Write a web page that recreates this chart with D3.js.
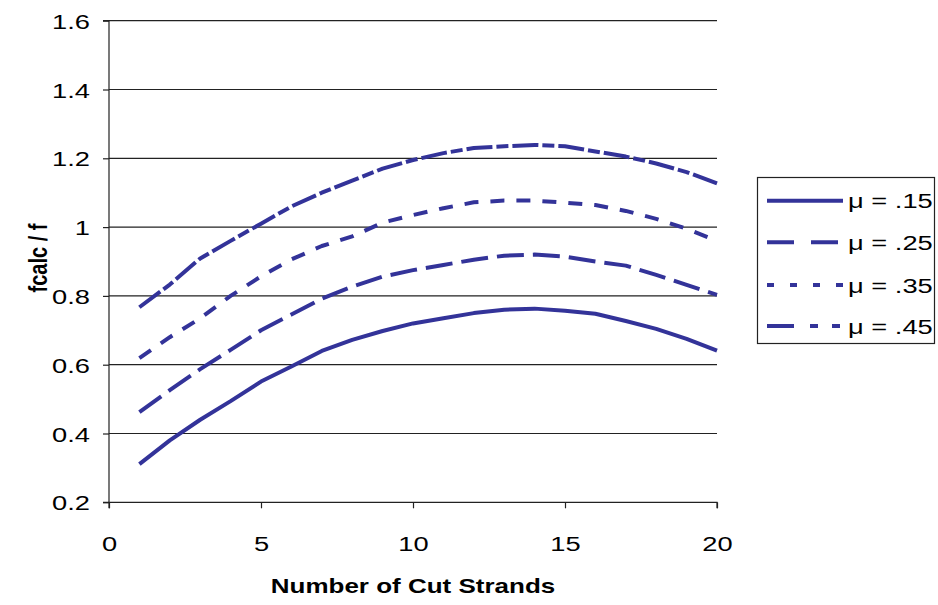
<!DOCTYPE html>
<html>
<head>
<meta charset="utf-8">
<script src="https://cdn.jsdelivr.net/npm/d3@7"></script>
<style>
  html, body { margin: 0; padding: 0; background: #fff; }
  svg { display: block; font-family: "Liberation Sans", Arial, sans-serif; }
</style>
</head>
<body>
<svg id="chart" width="938" height="605"></svg>
<script>
const strands = [1,2,3,4,5,6,7,8,9,10,11,12,13,14,15,16,17,18,19,20];
const mu15 = [0.311,0.38,0.44,0.494,0.551,0.595,0.64,0.672,0.698,0.72,0.735,0.75,0.76,0.763,0.757,0.748,0.727,0.704,0.675,0.641];
const mu25 = [0.462,0.526,0.587,0.643,0.70,0.746,0.792,0.827,0.856,0.875,0.89,0.905,0.917,0.92,0.914,0.90,0.888,0.861,0.832,0.803];
const mu35 = [0.619,0.68,0.735,0.80,0.857,0.906,0.945,0.973,1.013,1.035,1.055,1.072,1.077,1.077,1.071,1.064,1.047,1.024,0.995,0.96];
const mu45 = [0.767,0.833,0.909,0.96,1.01,1.06,1.10,1.135,1.17,1.195,1.215,1.23,1.235,1.239,1.235,1.22,1.205,1.185,1.16,1.127];
const seriesNames = ["\u03bc = .15","\u03bc = .25","\u03bc = .35","\u03bc = .45"];
const xTicks = [0,5,10,15,20];
const yTicks = [0.2,0.4,0.6,0.8,1.0,1.2,1.4,1.6];

(function () {
const seriesValues = [mu15, mu25, mu35, mu45];
const plotDash = [null, "27,9", "14,12", "26,4,12,4"];
const legendDash = [null, "27,17", "7,16", "27,16,8,14,8,20"];
const color = "#333399";
const SX = 1.3; // horizontal stretch of text in the reference

const svg = d3.select("#chart");
const pL = 109, pR = 717, pT = 20.7, pB = 502.3;
const x = d3.scaleLinear().domain([0,20]).range([pL,pR]);
const y = d3.scaleLinear().domain([0.2,1.6]).range([pB,pT]);

// gridlines
svg.append("g").selectAll("line").data(yTicks.filter(d => d > 0.2)).join("line")
  .attr("x1", pL).attr("x2", pR)
  .attr("y1", d => y(d)).attr("y2", d => y(d))
  .attr("stroke", "#222").attr("stroke-width", 1.2);

// axes
const yAxis = d3.axisLeft(y).tickValues(yTicks).tickSize(6)
  .tickFormat(d => d === 1 ? "1" : d3.format(".1f")(d));
const gy = svg.append("g").attr("transform", `translate(${pL},0)`).call(yAxis);
const xAxis = d3.axisBottom(x).tickValues(xTicks).tickSize(6).tickFormat(d3.format("d"));
const gx = svg.append("g").attr("transform", `translate(0,${pB})`).call(xAxis);
[gx, gy].forEach(g => {
  g.select(".domain").attr("stroke", "#222").attr("stroke-width", 1.2);
  g.selectAll(".tick line").attr("stroke", "#222").attr("stroke-width", 1.2);
  g.selectAll("text").attr("fill", "#000").style("font-size", "21px")
    .style("font-family", "'Liberation Sans', Arial, sans-serif");
});
gy.selectAll(".tick text").attr("x", 0).attr("dy", "0.36em")
  .attr("transform", `translate(-19,0) scale(${SX},1)`);
gx.selectAll(".tick text").attr("y", 0).attr("dy", 0)
  .attr("transform", `translate(0,49) scale(${SX},1)`);
gy.select(".domain").attr("d", `M-6,${pT}H0V${pB}H-6`);
gx.select(".domain").attr("d", `M${pL},6V0H${pR}V6`);

// lines
const line = d3.line().x((d,i) => x(strands[i])).y(d => y(d));
seriesValues.forEach((vals, k) => {
  svg.append("path").datum(vals)
    .attr("d", line)
    .attr("fill", "none")
    .attr("stroke", color)
    .attr("stroke-width", 4)
    .attr("stroke-linejoin", "round")
    .attr("stroke-dasharray", plotDash[k]);
});

// axis titles
svg.append("text").attr("transform", `translate(${(pL+pR)/2},593) scale(${SX},1)`)
  .attr("text-anchor", "middle").style("font-size", "20px").style("font-weight", "bold")
  .text("Number of Cut Strands");
svg.append("text").attr("transform", `translate(47,258) scale(${SX},1) rotate(-90)`)
  .attr("text-anchor", "middle").style("font-size", "20px").style("font-weight", "bold")
  .text("fcalc / f");

// legend
const lg = svg.append("g");
lg.append("rect").attr("x", 757.5).attr("y", 177.5).attr("width", 177).attr("height", 166)
  .attr("fill", "#fff").attr("stroke", "#222").attr("stroke-width", 1.2);
const rowY = [200.7, 242.3, 285, 326];
seriesNames.forEach((name, k) => {
  lg.append("line").attr("x1", 767).attr("x2", 843).attr("y1", rowY[k]).attr("y2", rowY[k])
    .attr("stroke", color).attr("stroke-width", 4).attr("stroke-dasharray", legendDash[k]);
  lg.append("text").attr("transform", `translate(848,${rowY[k] + 7.5}) scale(${SX},1)`)
    .style("font-size", "21px").text(name);
});
})();
</script>
</body>
</html>
